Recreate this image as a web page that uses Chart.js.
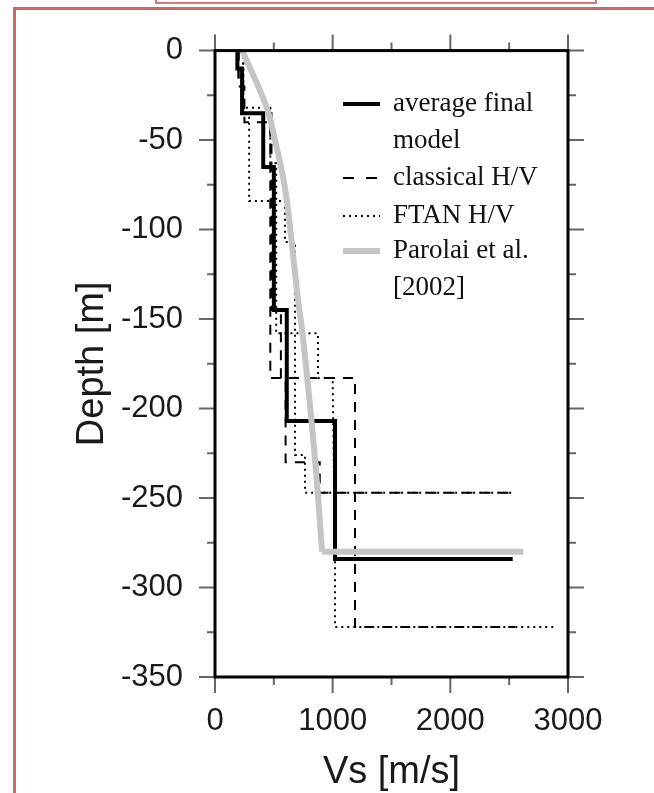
<!DOCTYPE html>
<html>
<head>
<meta charset="utf-8">
<script src="https://cdn.jsdelivr.net/npm/chart.js@4"></script>
<style>
  html, body { margin: 0; padding: 0; background: #fff; }
  #wrap { position: relative; width: 654px; height: 793px; overflow: hidden; }
  #tab { position: absolute; left: 155px; top: -6px; width: 438px; height: 6px; border: 2px solid #d77a74; }
  #frame { position: absolute; left: 13px; top: 7px; width: 700px; height: 900px; border-left: 3px solid #cf6862; border-top: 3px solid #cf6862; }
  canvas { position: absolute; left: 0; top: 0; }
</style>
</head>
<body>
<div id="wrap">
  <canvas id="vsChart" width="654" height="793"></canvas>
  <div id="tab"></div>
  <div id="frame"></div>
</div>
<script>
// Vs profiles: [Vs m/s, depth m] vertex lists
const avgModel = [[190,0],[190,-10],[230,-10],[230,-35],[410,-35],[410,-65],[500,-65],[500,-145],[610,-145],[610,-207],[1020,-207],[1020,-284],[2530,-284]];
const classicalA = [[200,0],[200,-15],[240,-15],[240,-35],[480,-35],[480,-145],[560,-145],[560,-183],[1190,-183],[1190,-322],[2550,-322]];
const classicalB = [[200,0],[200,-20],[250,-20],[250,-40],[470,-40],[470,-183],[600,-183],[600,-230],[890,-230],[890,-247],[2550,-247]];
const ftanA = [[240,0],[240,-35],[290,-35],[290,-84],[595,-84],[595,-107],[680,-107],[680,-226],[765,-226],[765,-247],[2550,-247]];
const ftanB = [[240,0],[240,-32],[470,-32],[470,-63],[520,-63],[520,-158],[875,-158],[875,-183],[1000,-183],[1020,-284],[1020,-322],[2890,-322]];
// smooth gradient part, then the half-space top
const parolaiCurve = [[230,0],[300,-10],[440,-32],[510,-50],[590,-75],[640,-100],[705,-139],[740,-156],[810,-200],[865,-240],[910,-280]];
const parolaiBase = [[910,-280],[2620,-280]];

const xTicks = [0, 1000, 2000, 3000];
const yTicks = [0, -50, -100, -150, -200, -250, -300, -350];
const legendLabels = [['average final', 'model'], ['classical H/V'], ['FTAN H/V'], ['Parolai et al.', '[2002]']];

const pts = arr => arr.map(p => ({x: p[0], y: p[1]}));

function profile(data, style) {
    return Object.assign({
        data: pts(data),
        showLine: true,
        pointRadius: 0,
        fill: false,
        borderColor: '#000',
        borderWidth: 2
    }, style);
}

// box, outward ticks on all four sides
const framePlugin = {
    id: 'frame',
    afterDatasetsDraw(chart) {
        const {ctx, chartArea: a, scales: {x, y}} = chart;
        ctx.save();
        ctx.strokeStyle = '#666';
        ctx.lineWidth = 2;
        ctx.beginPath();
        for (let v = 0; v <= 3000; v += 500) {
            const px = x.getPixelForValue(v);
            const len = v % 1000 === 0 ? 16 : 8;
            ctx.moveTo(px, a.top); ctx.lineTo(px, a.top - len);
            ctx.moveTo(px, a.bottom); ctx.lineTo(px, a.bottom + len);
        }
        for (let v = 0; v >= -350; v -= 25) {
            const py = y.getPixelForValue(v);
            const len = v % 50 === 0 ? 16 : 8;
            ctx.moveTo(a.left, py); ctx.lineTo(a.left - len, py);
            ctx.moveTo(a.right, py); ctx.lineTo(a.right + len, py);
        }
        ctx.stroke();
        ctx.strokeStyle = '#000';
        ctx.lineWidth = 3;
        ctx.strokeRect(a.left, a.top, a.right - a.left, a.bottom - a.top);
        ctx.restore();
    }
};

const legendPlugin = {
    id: 'profileLegend',
    afterDraw(chart) {
        const {ctx} = chart;
        const x0 = 343, x1 = 380, tx = 393;
        const rows = [104, 178, 216, 251];
        const styles = [
            {color: '#000', width: 4, dash: []},
            {color: '#000', width: 2, dash: [11, 12]},
            {color: '#000', width: 2, dash: [2, 4]},
            {color: '#c4c4c4', width: 6, dash: []}
        ];
        ctx.save();
        rows.forEach((ry, i) => {
            const s = styles[i];
            ctx.strokeStyle = s.color;
            ctx.lineWidth = s.width;
            ctx.setLineDash(s.dash);
            ctx.beginPath();
            ctx.moveTo(x0, ry); ctx.lineTo(x1, ry);
            ctx.stroke();
            ctx.setLineDash([]);
            ctx.fillStyle = '#111';
            ctx.font = '27px "Liberation Serif"';
            ctx.textBaseline = 'middle';
            legendLabels[i].forEach((t, j) => ctx.fillText(t, tx, ry + j * 37));
        });
        ctx.restore();
    }
};

new Chart(document.getElementById('vsChart'), {
    type: 'scatter',
    data: {
        datasets: [
            profile(parolaiCurve, {borderColor: '#c4c4c4', borderWidth: 6, tension: 0.4}),
            profile(parolaiBase, {borderColor: '#c4c4c4', borderWidth: 6, borderCapStyle: 'butt'}),
            profile(ftanA, {borderDash: [2, 4]}),
            profile(ftanB, {borderDash: [2, 4]}),
            profile(classicalA, {borderDash: [10, 8]}),
            profile(classicalB, {borderDash: [10, 8]}),
            profile(avgModel, {borderWidth: 4})
        ]
    },
    options: {
        responsive: false,
        animation: false,
        layout: {padding: {top: 50, right: 86, left: 0, bottom: 0}},
        plugins: {legend: {display: false}, tooltip: {enabled: false}},
        scales: {
            x: {
                type: 'linear', min: 0, max: 3000,
                afterFit: s => { s.height = 116; },
                afterBuildTicks: s => { s.ticks = xTicks.map(v => ({value: v})); },
                grid: {display: false, drawTicks: false},
                border: {display: false},
                ticks: {color: '#1a1a1a', padding: 26, font: {family: 'Liberation Sans', size: 31}, callback: v => String(v)},
                title: {display: true, text: 'Vs [m/s]', color: '#1a1a1a', padding: {top: 0, bottom: -2}, font: {family: 'Liberation Sans', size: 38}}
            },
            y: {
                type: 'linear', min: -350, max: 0,
                afterFit: s => { s.width = 215; },
                afterBuildTicks: s => { s.ticks = yTicks.map(v => ({value: v})); },
                grid: {display: false, drawTicks: false},
                border: {display: false},
                ticks: {color: '#1a1a1a', padding: 32, font: {family: 'Liberation Sans', size: 31}, callback: v => String(v)},
                title: {display: true, text: 'Depth [m]', color: '#1a1a1a', padding: {top: 70, bottom: 0}, font: {family: 'Liberation Sans', size: 38}}
            }
        }
    },
    plugins: [framePlugin, legendPlugin]
});
</script>
</body>
</html>
